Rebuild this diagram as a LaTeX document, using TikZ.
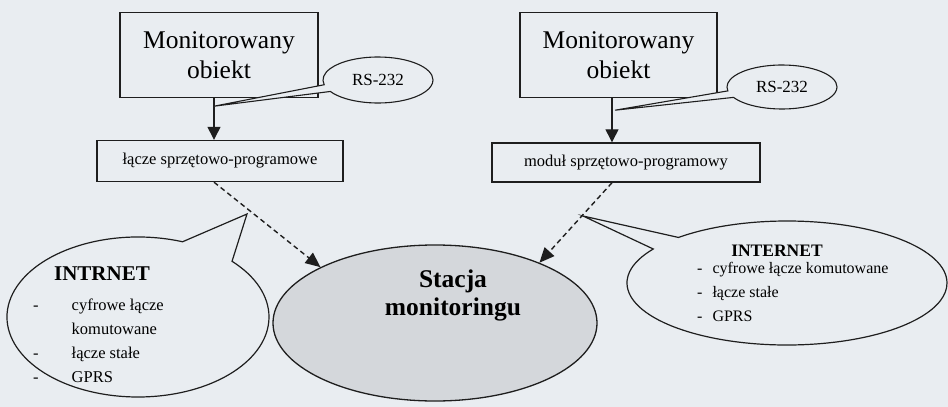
\documentclass[tikz,border=0pt]{standalone}
\usepackage{fontspec}
\setmainfont{Liberation Serif}
\usetikzlibrary{arrows.meta, positioning, calc, shapes.geometric, shapes.callouts}
\definecolor{pagebg}{HTML}{E9EDF1}
\definecolor{stationfill}{HTML}{D4D7DB}
\definecolor{inkline}{HTML}{1E1E1E}
\tikzset{
  objbox/.style={rectangle, draw=inkline, line width=1.4pt, minimum width=198pt,
                 minimum height=85pt, align=center, inner sep=0pt,
                 font=\fontsize{25.5}{30}\selectfont},
  linkbox/.style={rectangle, draw=inkline, line width=1.4pt, minimum width=#1,
                  minimum height=41pt, align=center, inner sep=0pt,
                  font=\fontsize{16.5}{20}\selectfont},
  linkbox/.default=246pt,
  rsbubble/.style={ellipse callout, draw=inkline, line width=1.1pt, fill=pagebg,
                   minimum width=110pt, minimum height=46pt, inner sep=0pt,
                   callout pointer arc=18, font=\fontsize{17}{20}\selectfont},
  netbubble/.style={ellipse callout, draw=inkline, line width=1.2pt, fill=pagebg,
                    inner sep=0pt, callout pointer arc=#1},
  netbubble/.default=20,
  solidarr/.style={-{Triangle[length=13pt, width=13pt]}, line width=1.3pt, inkline},
  dasharr/.style={-{Triangle[length=15pt, width=13pt]}, line width=1.4pt, inkline,
                  dash pattern=on 5pt off 3.5pt},
}
\begin{document}
\begin{tikzpicture}[
  x=1pt, y=1pt,
  station/.style={ellipse, draw=inkline, line width=1.3pt, fill=stationfill,
                  minimum width=324pt, minimum height=156pt, inner sep=0pt},
  listtxt/.style={anchor=base west, inner sep=0pt, font=\fontsize{16.5}{24}\selectfont},
  nettitle/.style={anchor=base, inner sep=0pt, font=\bfseries\fontsize{#1}{24}\selectfont}
]
  \useasboundingbox (0,0) rectangle (948,-407);
  \fill[pagebg] (0,0) rectangle (948,-407);

  \node[objbox] (obj1) at (219,-55) {Monitorowany\\obiekt};
  \node[objbox, minimum width=197pt] (obj2) at (618.5,-55) {Monitorowany\\obiekt};
  \node[linkbox] (link1) at (220,-161) {łącze sprzętowo-programowe};
  \node[linkbox=268pt, minimum height=39pt] (link2) at (626,-162.5) {moduł sprzętowo-programowy};
  \node[station] (stacja) at (435,-323) {};
  \node[align=center, inner sep=0pt, font=\bfseries\fontsize{25.5}{28}\selectfont]
    (stacjatxt) at (453,-295) {Stacja\\monitoringu};

  \draw[solidarr] ([xshift=-5pt]obj1.south) -- ([xshift=-6pt]link1.north);
  \draw[solidarr] ([xshift=-6.5pt]obj2.south) -- ([xshift=-14pt]link2.north);

  % RS-232 bubbles
  \coordinate (rs1tip) at ($(obj1.south)+(-5,-8)$);
  \coordinate (rs2tip) at ($(obj2.south)+(-3.5,-12)$);
  \node[rsbubble, callout absolute pointer={(rs1tip)}] (rs1) at (378,-80) {RS-232};
  \node[rsbubble, minimum height=44pt, callout absolute pointer={(rs2tip)}] (rs2) at (782,-87) {RS-232};

  % network bubbles
  \coordinate (intrtip) at (247,-214);
  \coordinate (inettip) at (583,-216);
  \node[netbubble=26, minimum width=262pt, minimum height=160pt,
        callout absolute pointer={(intrtip)}] (intr) at (138,-317) {};
  \node[netbubble=14, minimum width=320pt, minimum height=124pt,
        callout absolute pointer={(inettip)}] (inet) at (787,-283) {};
  \node[nettitle=21] (intrtitle) at (102,-280) {INTRNET};
  \node[listtxt] (intrlist) at (33,-310)
    {\begin{tabular}[t]{@{}l@{\hspace{33pt}}l@{}}
      - & cyfrowe łącze\\
        & komutowane\\
      - & łącze stałe\\
      - & GPRS
     \end{tabular}};
  \node[nettitle=17.5] (inettitle) at (777,-256) {INTERNET};
  \node[listtxt, font=\fontsize{16}{24}\selectfont] (inetlist) at (697,-273)
    {\begin{tabular}[t]{@{}l@{\hspace{10pt}}l@{}}
      - & cyfrowe łącze komutowane\\
      - & łącze stałe\\
      - & GPRS
     \end{tabular}};

  \draw[dasharr] ([xshift=-6pt]link1.south) -- (stacja.154);
  \draw[dasharr] ([xshift=-14pt]link2.south) -- (stacja.30);
\end{tikzpicture}
\end{document}
